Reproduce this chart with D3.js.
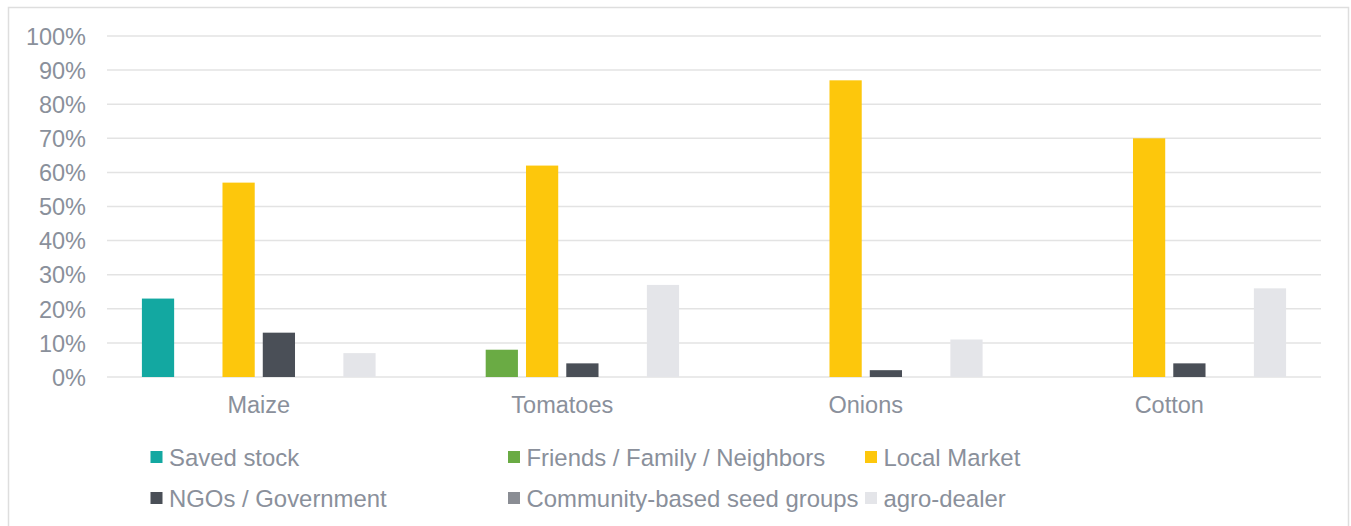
<!DOCTYPE html>
<html>
<head>
<meta charset="utf-8">
<script src="https://cdn.jsdelivr.net/npm/d3@7"></script>
<style>
  html, body { margin: 0; padding: 0; background: #fff; }
  svg { display: block; font-family: "Liberation Sans", Arial, sans-serif; }
</style>
</head>
<body>
<svg id="chart" width="1351" height="526"></svg>
<script>
const categories = ["Maize", "Tomatoes", "Onions", "Cotton"];
const seriesNames = ["Saved stock", "Friends / Family / Neighbors", "Local Market", "NGOs / Government", "Community-based seed groups", "agro-dealer"];
const seriesColors = ["#13a8a1", "#6aab44", "#fdc70c", "#4a4f57", "#8a8d94", "#e4e5e9"];
const savedStock = [23, 0, 0, 0];
const friendsFamily = [0, 8, 0, 0];
const localMarket = [57, 62, 87, 70];
const ngosGovernment = [13, 4, 2, 4];
const communitySeed = [0, 0, 0, 0];
const agroDealer = [7, 27, 11, 26];
const yTicks = [0, 10, 20, 30, 40, 50, 60, 70, 80, 90, 100];

const seriesValues = [savedStock, friendsFamily, localMarket, ngosGovernment, communitySeed, agroDealer];
const textColor = "#8a909b";
const fontFam = '"Liberation Sans", Arial, sans-serif';

const svg = d3.select("#chart");

// outer chart border
svg.append("rect")
  .attr("x", 8.5).attr("y", 7.5)
  .attr("width", 1340).attr("height", 540)
  .attr("fill", "none").attr("stroke", "#dedede").attr("stroke-width", 1.5);

const plotLeft = 107, plotRight = 1321, plotTop = 36, plotBottom = 377;

const y = d3.scaleLinear().domain([0, 100]).range([plotBottom, plotTop]);
const x0 = d3.scaleBand().domain(categories).range([plotLeft, plotRight]).paddingInner(0.23).paddingOuter(0.115);
const x1 = d3.scaleBand().domain(seriesNames).range([0, x0.bandwidth()]).paddingInner(0.2).paddingOuter(0);

// gridlines
svg.append("g").selectAll("line").data(yTicks).join("line")
  .attr("x1", plotLeft).attr("x2", plotRight)
  .attr("y1", d => y(d)).attr("y2", d => y(d))
  .attr("stroke", "#e3e3e3").attr("stroke-width", 1.5);

// y tick labels
const yAxis = d3.axisLeft(y).tickValues(yTicks).tickFormat(d => d + "%").tickSize(0).tickPadding(21);
const gy = svg.append("g").attr("transform", `translate(${plotLeft},0)`).call(yAxis);
gy.select(".domain").remove();
gy.selectAll("text").attr("fill", textColor).style("font-size", "23.5px").attr("dy", "0.35em")
  .style("font-family", fontFam);

// bars
const groups = svg.append("g").selectAll("g").data(categories).join("g")
  .attr("transform", d => `translate(${x0(d)},0)`);
groups.selectAll("rect")
  .data((c, ci) => seriesNames.map((s, si) => ({ s, si, v: seriesValues[si][ci] })))
  .join("rect")
  .attr("x", d => x1(d.s))
  .attr("width", x1.bandwidth())
  .attr("y", d => y(d.v))
  .attr("height", d => y(0) - y(d.v))
  .attr("fill", d => seriesColors[d.si]);

// x category labels
const xAxis = d3.axisBottom(x0).tickSize(0).tickPadding(0);
const gx = svg.append("g").attr("transform", `translate(0,${plotBottom})`).call(xAxis);
gx.select(".domain").remove();
gx.selectAll("text").attr("fill", textColor).style("font-size", "23.5px").attr("dy", null).attr("y", 36)
  .style("font-family", fontFam);

// legend
const legendCols = [150.5, 508, 865];
const legendRows = [466, 507];
const legend = svg.append("g").selectAll("g").data(seriesNames).join("g")
  .attr("transform", (d, i) => `translate(${legendCols[i % 3]},${legendRows[Math.floor(i / 3)]})`);
legend.append("rect")
  .attr("x", 0).attr("y", -15).attr("width", 12).attr("height", 12)
  .attr("fill", (d, i) => seriesColors[i]);
legend.append("text")
  .attr("x", 18.5).attr("y", 0)
  .attr("fill", textColor).style("font-size", "23.9px").style("font-family", fontFam)
  .text(d => d);
</script>
</body>
</html>
